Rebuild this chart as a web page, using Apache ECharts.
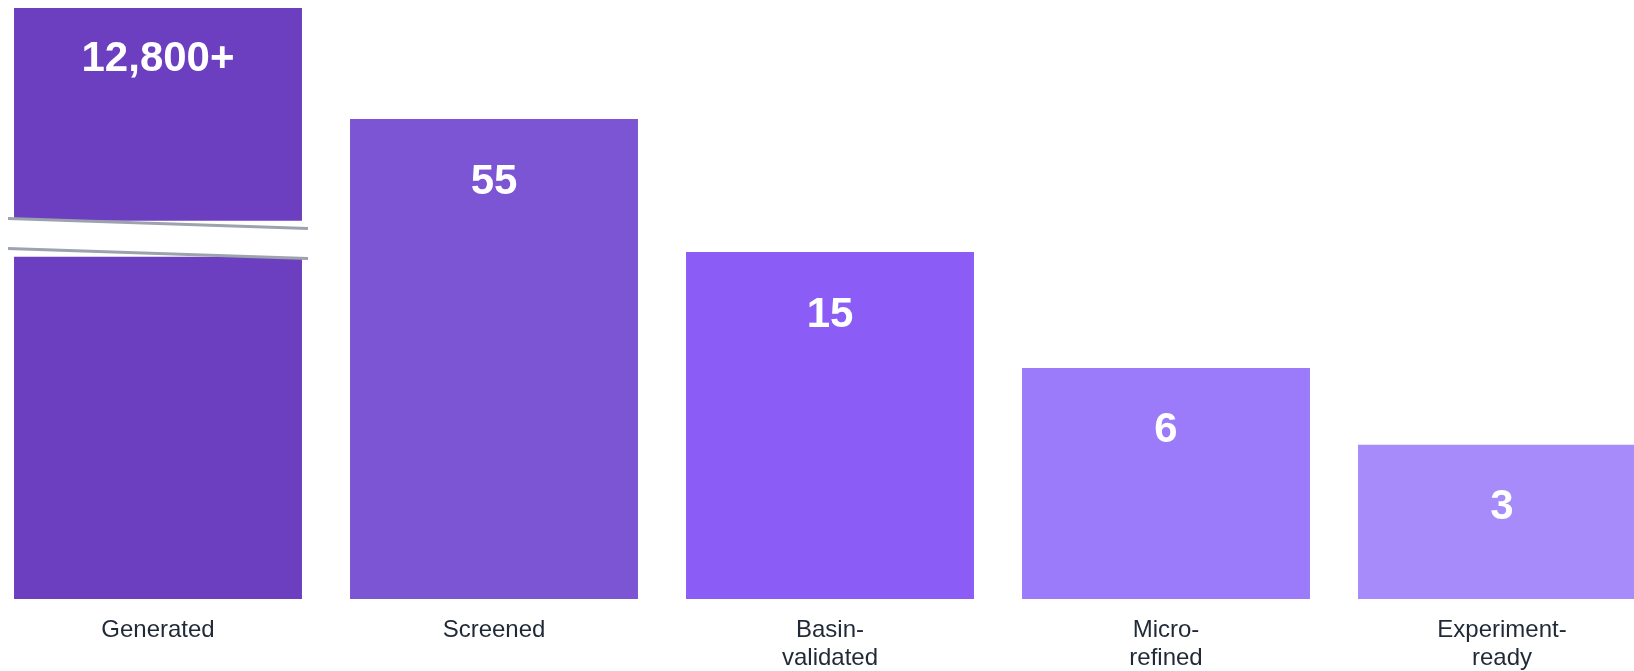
<!DOCTYPE html>
<html>
<head>
<meta charset="utf-8">
<script src="https://cdn.jsdelivr.net/npm/echarts@6/dist/echarts.min.js"></script>
<style>
  html, body { margin: 0; padding: 0; background: #fff; }
  #chart { width: 1634px; height: 671px; }
</style>
</head>
<body>
<div id="chart"></div>
<script>
// stages of the pipeline
let stages = ["Generated", "Screened", "Basin-\nvalidated", "Micro-\nrefined", "Experiment-\nready"];
// text shown on each bar
let valueLabels = ["12,800+", "55", "15", "6", "3"];
// drawn bar length (not to scale, first bar is broken)
let barLength = [100, 81.2, 58.7, 39.1, 26.1];
let barColors = ["#6c3fc1", "#7b55d3", "#8b5cf6", "#9b7bfa", "#a78bfa"];
// axis break on the first bar: gap in bar units, and slanted line ends
let breakGap = [57.9, 64.0];
let breakLineTop = [64.4, 62.7];
let breakLineBottom = [59.3, 57.6];

let myChart = echarts.init(document.getElementById("chart"));

let option = {
  animation: false,
  grid: {
    left: -10,
    right: -36,
    top: 8,
    bottom: 72,
    outerBoundsMode: "none",
    containLabel: false,
  },
  xAxis: {
    type: "category",
    data: stages,
    axisLine: { show: false },
    axisTick: { show: false },
    axisLabel: {
      interval: 0,
      margin: 17,
      color: "#1f2937",
      fontSize: 24,
      lineHeight: 28,
      fontFamily: "Liberation Sans, Arial, sans-serif",
    },
  },
  yAxis: {
    type: "value",
    min: 0,
    max: 100,
    show: false,
  },
  series: [
    {
      type: "bar",
      barWidth: "85.7%",
      data: barLength.map((v, i) => ({
        value: v,
        itemStyle: { color: barColors[i] },
        label: { distance: i === 0 ? 30 : 42 },
      })),
      label: {
        show: true,
        position: "insideTop",
        formatter: (p) => valueLabels[p.dataIndex],
        color: "#fff",
        fontSize: 42,
        lineHeight: 42,
        fontWeight: "bold",
        fontFamily: "Liberation Sans, Arial, sans-serif",
      },
    },
    {
      // break marks drawn over the first bar
      type: "custom",
      z: 5,
      silent: true,
      data: [[0]],
      renderItem: function (params, api) {
        let band = api.size([1, 0])[0];
        let half = band * 0.857 / 2;
        let ext = half + 6;
        let cx = api.coord([0, 0])[0];
        let gTop = api.coord([0, breakGap[1]])[1];
        let gBot = api.coord([0, breakGap[0]])[1];
        let l1a = api.coord([0, breakLineTop[0]])[1];
        let l1b = api.coord([0, breakLineTop[1]])[1];
        let l2a = api.coord([0, breakLineBottom[0]])[1];
        let l2b = api.coord([0, breakLineBottom[1]])[1];
        let lineStyle = { stroke: "#9ca3af", lineWidth: 3, fill: null };
        return {
          type: "group",
          children: [
            {
              type: "rect",
              shape: { x: cx - half - 1, y: gTop, width: half * 2 + 2, height: gBot - gTop },
              style: { fill: "#fff" },
            },
            {
              type: "polygon",
              shape: { points: [[cx - half - 1, l1a], [cx + half + 1, l1b], [cx + half + 1, l2b], [cx - half - 1, l2a]] },
              style: { fill: "#fff" },
            },
            {
              type: "line",
              shape: { x1: cx - ext, y1: l1a, x2: cx + ext, y2: l1b },
              style: lineStyle,
            },
            {
              type: "line",
              shape: { x1: cx - ext, y1: l2a, x2: cx + ext, y2: l2b },
              style: lineStyle,
            },
          ],
        };
      },
    },
  ],
};

myChart.setOption(option);
window.addEventListener("resize", () => {
  myChart.resize();
});
</script>
</body>
</html>
